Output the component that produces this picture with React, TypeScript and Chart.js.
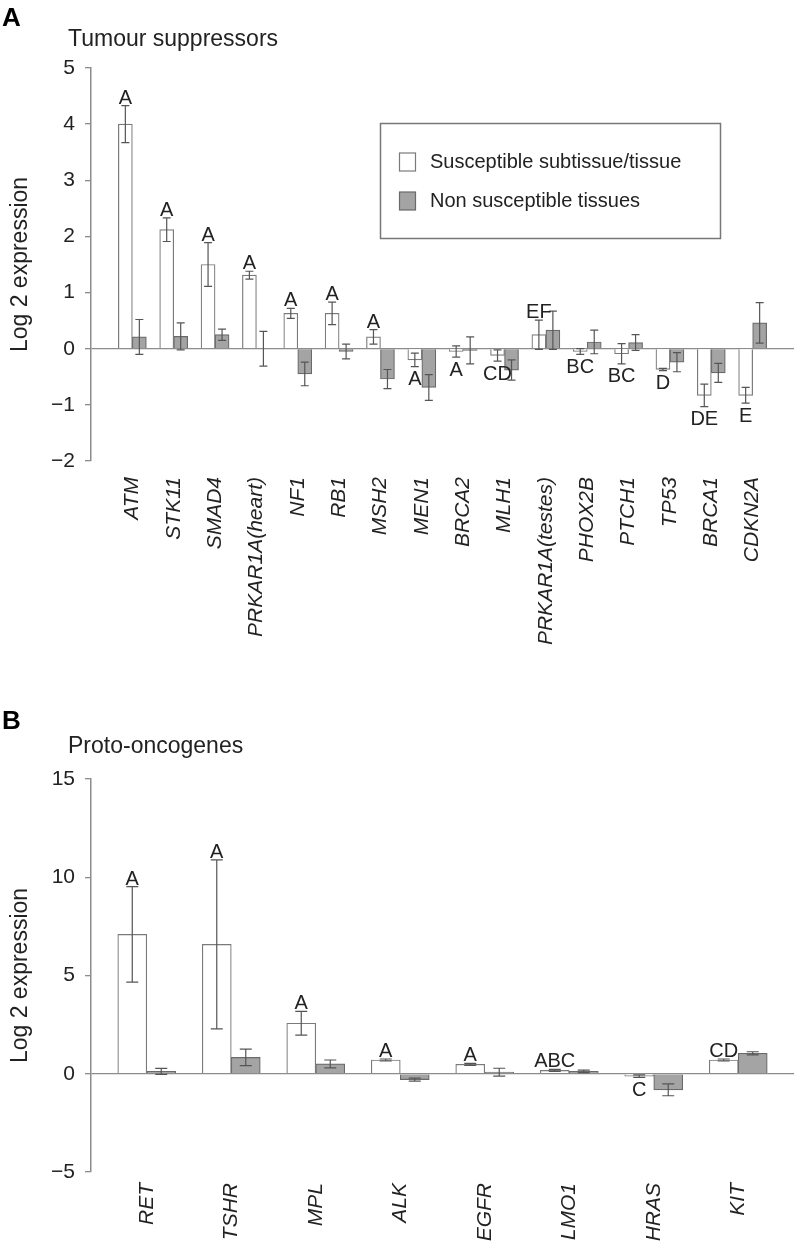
import React, { useEffect, useRef } from 'react';
import { Chart, registerables } from 'chart.js';

Chart.register(...registerables);

const FONT = '"Liberation Sans", Arial, Helvetica, sans-serif';

// ---------- Panel A: Tumour suppressors ----------
const genesA = ['ATM', 'STK11', 'SMAD4', 'PRKAR1A(heart)', 'NF1', 'RB1', 'MSH2', 'MEN1', 'BRCA2', 'MLH1', 'PRKAR1A(testes)', 'PHOX2B', 'PTCH1', 'TP53', 'BRCA1', 'CDKN2A'];
const suscA = [4.0, 2.12, 1.5, 1.31, 0.63, 0.63, 0.21, -0.2, -0.05, -0.12, 0.25, -0.05, -0.09, -0.37, -0.83, -0.83];
const suscErrA = [0.33, 0.21, 0.39, 0.07, 0.09, 0.2, 0.13, 0.12, 0.1, 0.1, 0.26, 0.05, 0.18, 0.02, 0.2, 0.14];
const nonA = [0.21, 0.22, 0.25, 0.0, -0.45, -0.05, -0.54, -0.69, -0.03, -0.38, 0.33, 0.12, 0.11, -0.24, -0.43, 0.46];
const nonErrA = [0.31, 0.24, 0.1, 0.31, 0.21, 0.13, 0.17, 0.23, 0.24, 0.18, 0.34, 0.21, 0.14, 0.17, 0.17, 0.36];
const lettersA = ['A', 'A', 'A', 'A', 'A', 'A', 'A', 'A', 'A', 'CD', 'EF', 'BC', 'BC', 'D', 'DE', 'E'];
const yTicksA = { min: -2, max: 5, step: 1 };

// ---------- Panel B: Proto-oncogenes ----------
const genesB = ['RET', 'TSHR', 'MPL', 'ALK', 'EGFR', 'LMO1', 'HRAS', 'KIT'];
const suscB = [7.09, 6.58, 2.57, 0.7, 0.48, 0.17, -0.12, 0.7];
const suscErrB = [2.43, 4.3, 0.6, 0.05, 0.05, 0.05, 0.06, 0.05];
const nonB = [0.12, 0.83, 0.5, -0.3, 0.08, 0.12, -0.82, 1.04];
const nonErrB = [0.15, 0.42, 0.2, 0.08, 0.2, 0.06, 0.3, 0.08];
const lettersB = ['A', 'A', 'A', 'A', 'A', 'ABC', 'C', 'CD'];
const yTicksB = { min: -5, max: 15, step: 5 };

const seriesNames = ['Susceptible subtissue/tissue', 'Non susceptible tissues'];

const WHITE_FILL = '#ffffff';
const WHITE_BORDER = '#7a7a7a';
const GRAY_FILL = '#a4a4a4';
const GRAY_BORDER = '#6a6a6a';
const AXIS = '#8c8c8c';
const TEXT = '#222222';

const minusFmt = (v: number) => (v < 0 ? '\u2212' + Math.abs(v) : String(v));

function errorPlugin(errs: number[][], vals: number[][], letters: string[], capHalf: number) {
  return {
    id: 'errbars',
    afterDatasetsDraw(chart: any) {
      const ctx = chart.ctx;
      const ys = chart.scales.y;
      ctx.save();
      ctx.strokeStyle = '#555';
      ctx.lineWidth = 1.2;
      vals.forEach((arr, di) => {
        const meta = chart.getDatasetMeta(di);
        meta.data.forEach((el: any, i: number) => {
          const v = arr[i];
          const e = errs[di][i];
          const x = el.x;
          const t = ys.getPixelForValue(v + e);
          const b = ys.getPixelForValue(v - e);
          ctx.beginPath();
          ctx.moveTo(x, t);
          ctx.lineTo(x, b);
          ctx.moveTo(x - capHalf, t);
          ctx.lineTo(x + capHalf, t);
          ctx.moveTo(x - capHalf, b);
          ctx.lineTo(x + capHalf, b);
          ctx.stroke();
        });
      });
      const meta0 = chart.getDatasetMeta(0);
      ctx.fillStyle = TEXT;
      ctx.font = `20px ${FONT}`;
      ctx.textAlign = 'center';
      meta0.data.forEach((el: any, i: number) => {
        const v = vals[0][i];
        const e = errs[0][i];
        if (v >= 0) {
          ctx.textBaseline = 'alphabetic';
          ctx.fillText(letters[i], el.x, ys.getPixelForValue(v + e) - 2);
        } else {
          ctx.textBaseline = 'top';
          ctx.fillText(letters[i], el.x, ys.getPixelForValue(v - e) + 3);
        }
      });
      ctx.restore();
    },
  };
}

function decorPlugin(panelLetter: string, title: string, letterY: number, titleY: number, withLegend: boolean) {
  return {
    id: 'decor',
    afterDraw(chart: any) {
      const ctx = chart.ctx;
      ctx.save();
      ctx.fillStyle = '#000';
      ctx.textAlign = 'left';
      ctx.textBaseline = 'middle';
      ctx.font = `bold 26px ${FONT}`;
      ctx.fillText(panelLetter, 2, letterY);
      ctx.fillStyle = TEXT;
      ctx.font = `23px ${FONT}`;
      ctx.fillText(title, 68, titleY);
      if (withLegend) {
        ctx.strokeStyle = '#777';
        ctx.lineWidth = 1.5;
        ctx.strokeRect(380.5, 123.5, 340, 115);
        const fills = [WHITE_FILL, GRAY_FILL];
        const borders = [WHITE_BORDER, GRAY_BORDER];
        const ys = [162, 201];
        seriesNames.forEach((name, i) => {
          ctx.fillStyle = fills[i];
          ctx.fillRect(399.5, ys[i] - 9, 16, 18);
          ctx.strokeStyle = borders[i];
          ctx.lineWidth = 1.2;
          ctx.strokeRect(399.5, ys[i] - 9, 16, 18);
          ctx.fillStyle = TEXT;
          ctx.font = `20px ${FONT}`;
          ctx.textBaseline = 'middle';
          ctx.fillText(name, 430, ys[i]);
        });
      }
      ctx.restore();
    },
  };
}

function buildConfig(p: {
  genes: string[]; susc: number[]; non: number[]; suscErr: number[]; nonErr: number[]; letters: string[];
  yt: { min: number; max: number; step: number }; xmin: number; xmax: number; barW: number; capHalf: number;
  padTop: number; xHeight: number; labelPad: number; panelLetter: string; title: string; letterY: number; titleY: number; legend: boolean;
}) {
  return {
    type: 'bar' as const,
    data: {
      datasets: [
        {
          label: seriesNames[0],
          data: p.susc.map((v, i) => ({ x: i, y: v })),
          backgroundColor: WHITE_FILL,
          borderColor: WHITE_BORDER,
          borderWidth: 1.2,
          barThickness: p.barW,
        },
        {
          label: seriesNames[1],
          data: p.non.map((v, i) => ({ x: i, y: v })),
          backgroundColor: GRAY_FILL,
          borderColor: GRAY_BORDER,
          borderWidth: 1.2,
          barThickness: p.barW,
        },
      ],
    },
    options: {
      responsive: false,
      animation: false,
      devicePixelRatio: 1,
      layout: { padding: { top: p.padTop, left: 0, right: 0, bottom: 0 } },
      plugins: { legend: { display: false }, tooltip: { enabled: false } },
      scales: {
        x: {
          type: 'linear',
          min: p.xmin,
          max: p.xmax,
          offset: false,
          grid: { display: false, drawTicks: false },
          border: { display: false },
          afterBuildTicks: (s: any) => {
            s.ticks = p.genes.map((_, i) => ({ value: i }));
          },
          ticks: {
            autoSkip: false,
            minRotation: 90,
            maxRotation: 90,
            padding: p.labelPad,
            color: TEXT,
            font: { family: FONT, size: 21, style: 'italic' },
            callback: (v: number) => p.genes[v] ?? '',
          },
          afterFit: (s: any) => {
            s.height = p.xHeight;
          },
        },
        y: {
          min: p.yt.min,
          max: p.yt.max,
          ticks: {
            stepSize: p.yt.step,
            color: TEXT,
            padding: 10,
            font: { family: FONT, size: 21 },
            callback: (v: number) => minusFmt(v),
          },
          grid: {
            color: (c: any) => (c.tick && c.tick.value === 0 ? AXIS : 'rgba(0,0,0,0)'),
            tickColor: AXIS,
            tickLength: 6,
            lineWidth: 1.3,
          },
          border: { display: true, color: AXIS, width: 1.5 },
          title: {
            display: true,
            text: 'Log 2 expression',
            color: TEXT,
            font: { family: FONT, size: 23 },
            padding: { top: 7, bottom: 0 },
          },
          afterFit: (s: any) => {
            s.width = 91;
          },
        },
      },
    },
    plugins: [
      errorPlugin([p.suscErr, p.nonErr], [p.susc, p.non], p.letters, p.capHalf),
      decorPlugin(p.panelLetter, p.title, p.letterY, p.titleY, p.legend),
    ],
  };
}

function Panel({ cfg, top, height }: { cfg: () => any; top: number; height: number }) {
  const ref = useRef<HTMLCanvasElement>(null);
  useEffect(() => {
    const chart = new Chart(ref.current as HTMLCanvasElement, cfg());
    return () => chart.destroy();
  }, []);
  return (
    <canvas
      ref={ref}
      width={794}
      height={height}
      style={{ position: 'absolute', left: 0, top, width: 794, height }}
    />
  );
}

export default function App() {
  const cfgA = () =>
    buildConfig({
      genes: genesA, susc: suscA, non: nonA, suscErr: suscErrA, nonErr: nonErrA, letters: lettersA,
      yt: yTicksA, xmin: -1, xmax: 16, barW: 14, capHalf: 4,
      padTop: 68, xHeight: 209, labelPad: 16,
      panelLetter: 'A', title: 'Tumour suppressors', letterY: 19, titleY: 40, legend: true,
    });
  const cfgB = () =>
    buildConfig({
      genes: genesB, susc: suscB, non: nonB, suscErr: suscErrB, nonErr: nonErrB, letters: lettersB,
      yt: yTicksB, xmin: -0.66, xmax: 7.66, barW: 29, capHalf: 6,
      padTop: 109, xHeight: 73, labelPad: 11,
      panelLetter: 'B', title: 'Proto-oncogenes', letterY: 52, titleY: 77, legend: false,
    });
  return (
    <div style={{ position: 'absolute', left: 0, top: 0, width: 794, height: 1245, background: '#fff' }}>
      <Panel cfg={cfgA} top={0} height={670} />
      <Panel cfg={cfgB} top={670} height={575} />
    </div>
  );
}
